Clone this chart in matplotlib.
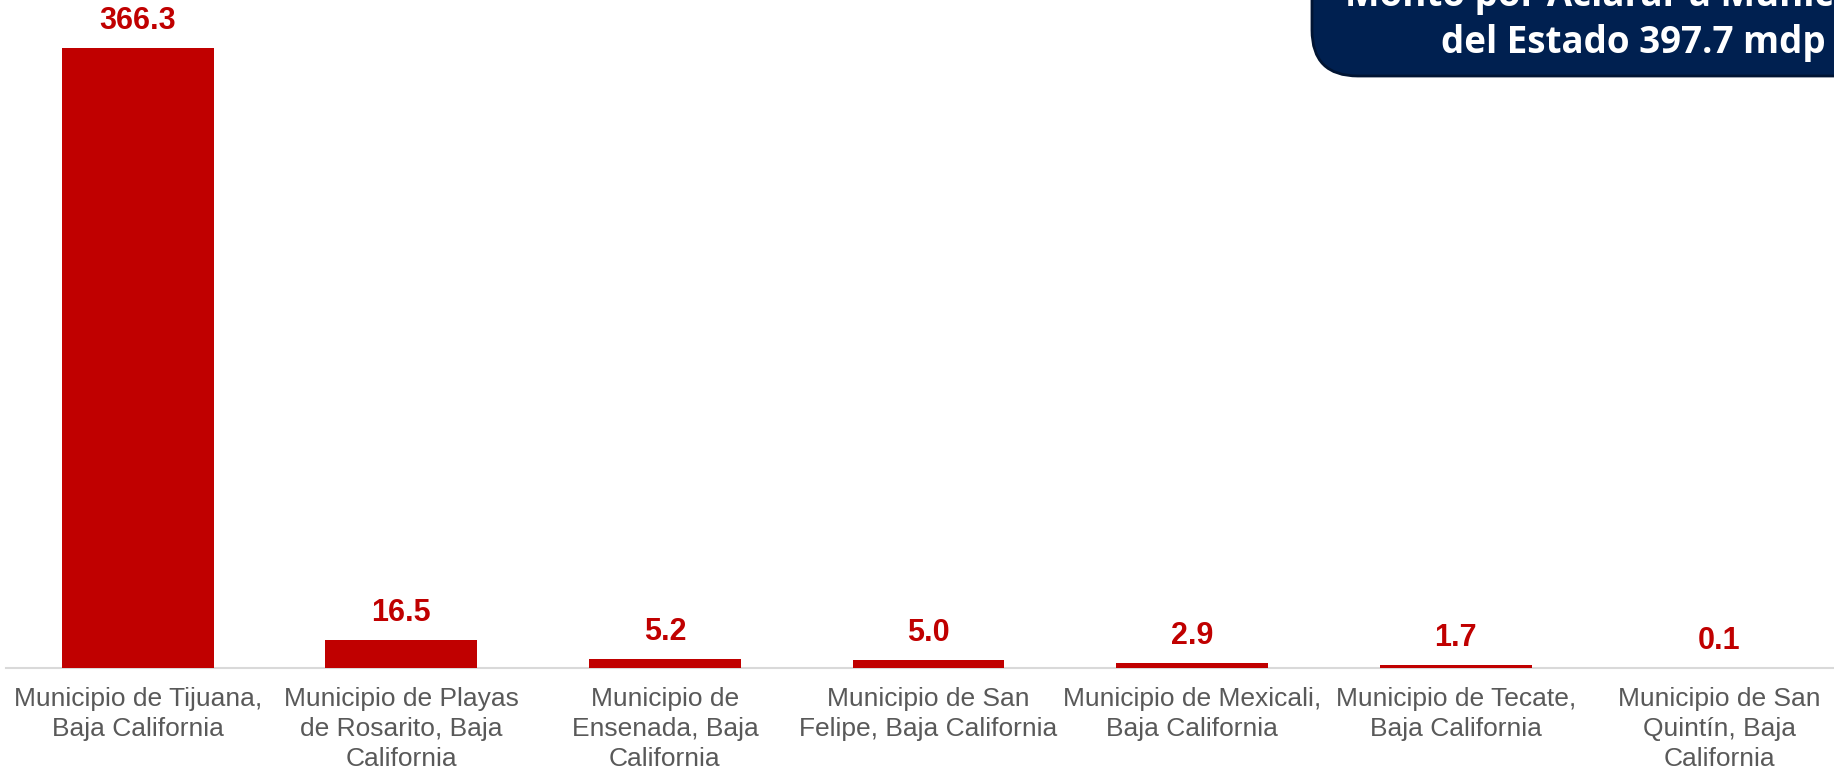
import matplotlib
matplotlib.use("Agg")
import matplotlib.pyplot as plt
from matplotlib.patches import FancyBboxPatch

categories = [
    "Municipio de Tijuana,\nBaja California",
    "Municipio de Playas\nde Rosarito, Baja\nCalifornia",
    "Municipio de\nEnsenada, Baja\nCalifornia",
    "Municipio de San\nFelipe, Baja California",
    "Municipio de Mexicali,\nBaja California",
    "Municipio de Tecate,\nBaja California",
    "Municipio de San\nQuintín, Baja\nCalifornia",
]
values = [366.3, 16.5, 5.2, 5.0, 2.9, 1.7, 0.1]
box_text = "Monto por Aclarar a Municipios\ndel Estado 397.7 mdp"

W, H = 1834, 771
fig = plt.figure(figsize=(W / 100, H / 100), dpi=100)
fig.patch.set_facecolor("white")

# axes: x from 6px to 1851px, baseline at y=668 from top, top at y=0
ax = fig.add_axes([6 / W, 103 / H, 1845 / W, 668 / H])
ax.set_facecolor("none")
x = list(range(len(values)))
ax.bar(x, values, width=0.576, color="#C00000", zorder=2)
ax.set_xlim(-0.5, len(values) - 0.5)
ax.set_ylim(0, 366.3 * 668 / 620)

for xi, v in zip(x, values):
    ax.annotate(f"{v:.1f}", (xi, v), xytext=(0, 8.5), textcoords="offset points",
                ha="center", va="bottom", color="#C00000", fontsize=22,
                fontweight="bold", family="Liberation Sans")

for s in ["top", "right", "left"]:
    ax.spines[s].set_visible(False)
ax.spines["bottom"].set_color("#D9D9D9")
ax.spines["bottom"].set_linewidth(1.5)
ax.spines["bottom"].set_zorder(1)
ax.set_yticks([])
ax.set_xticks(x)
ax.set_xticklabels(categories, fontsize=19, color="#595959", family="Liberation Sans",
                   linespacing=1.3)
ax.tick_params(axis="x", length=0, pad=14)

# title box (top right, clipped by figure edge)
box = FancyBboxPatch((1312 / W, (H - 76) / H), 700 / W, 200 / H,
                     boxstyle="round,pad=0,rounding_size=0.025",
                     transform=fig.transFigure, facecolor="#002050",
                     edgecolor="#001433", linewidth=2, mutation_aspect=W / H,
                     zorder=5)
fig.patches.append(box)
fig.text(1633 / W, (H - 53) / H, box_text, ha="center", va="baseline",
         color="white", fontsize=26.5, fontweight="bold", family="Open Sans",
         linespacing=1.3, zorder=6)

fig.savefig("out.png", dpi=100)
